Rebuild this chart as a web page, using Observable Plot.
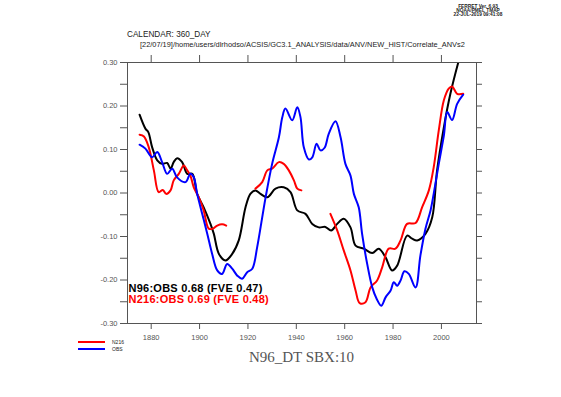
<!DOCTYPE html>
<html><head><meta charset="utf-8">
<script src="https://cdn.jsdelivr.net/npm/d3@7"></script>
<script src="https://cdn.jsdelivr.net/npm/@observablehq/plot@0.6"></script>
<style>
body{margin:0;background:#fff}
#c{position:relative;width:561px;height:397px}
</style>
</head><body><div id="c"></div>
<script>
// N96 (black)
const n96Years = [1875.2,1877.6,1878.8,1880.4,1882.5,1884.5,1886.6,1888,1889.3,1890.7,1892.8,1894.9,1897,1899,1901.7,1904.5,1905.9,1908,1910.7,1913.5,1916.2,1919,1921,1923.1,1925.2,1928,1931.4,1934.8,1937.6,1940.4,1943.8,1946.6,1949.3,1952,1954.4,1956.9,1959.6,1962.4,1964.5,1967.9,1971.4,1974.1,1976.9,1979.6,1981.7,1985.8,1987.9,1990,1993.4,1996.2,1998.2,2001,2003.7,2007.2,2009];
const n96Values = [0.180,0.148,0.140,0.105,0.075,0.067,0.069,0.056,0.071,0.080,0.071,0.044,0.044,-0.002,-0.033,-0.071,-0.094,-0.140,-0.155,-0.140,-0.109,-0.033,-0.002,0.006,-0.002,-0.010,0.010,0.013,0.002,-0.040,-0.048,-0.071,-0.079,-0.078,-0.086,-0.071,-0.059,-0.079,-0.121,-0.128,-0.138,-0.128,-0.148,-0.178,-0.167,-0.098,-0.105,-0.109,-0.094,-0.056,0.052,0.151,0.228,0.305,0.340];

// N216 (red), null = gap
const n216Years = [1875.2,1877,1879,1881.1,1883.1,1884.8,1886.2,1888,1889.3,1891.4,1893.5,1894.9,1896.2,1897.6,1899.7,1901.7,1903.8,1905.5,1907.3,1909.3,1911,1917,1923.1,1925.9,1928,1930,1932.8,1934.8,1936.9,1939,1940.4,1942.1,1948,1954.1,1956.9,1959.6,1962.4,1964.5,1966.2,1968.6,1970.7,1973.4,1975.5,1978.2,1981,1983.1,1985.8,1989.3,1992,1994.8,1996.8,1998.9,2001,2003,2004.4,2006.5,2009];
const n216Values = [0.134,0.130,0.105,0.052,0.002,0.007,-0.002,0.006,0.029,0.044,0.063,0.052,0.040,0.013,-0.010,-0.040,-0.082,-0.082,-0.075,-0.072,-0.075,null,0.010,0.025,0.052,0.056,0.071,0.067,0.052,0.029,0.010,0.006,null,-0.048,-0.086,-0.132,-0.178,-0.224,-0.253,-0.251,-0.217,-0.201,-0.171,-0.128,-0.128,-0.109,-0.071,-0.069,-0.033,0.006,0.059,0.144,0.213,0.240,0.245,0.228,0.228];

// OBS (blue)
const obsYears = [1875.2,1877.6,1880.4,1882.5,1884.5,1886.6,1888.7,1890.7,1894.2,1896.2,1897.6,1899,1901.1,1903.2,1905.2,1907.3,1909.3,1911.4,1913.5,1915.6,1917.6,1919.7,1921.8,1923.8,1925.9,1927.3,1930,1932.8,1934.2,1935.5,1938.3,1940.4,1941.7,1943.1,1945.2,1946.6,1948.4,1950,1951.7,1953.4,1956.2,1958.3,1960.3,1962.4,1963.8,1965.8,1967.2,1969.3,1971.4,1973.2,1975.1,1976.9,1979,1980.3,1981.7,1983.1,1984.7,1986.5,1989.3,1991.3,1993.4,1995.5,1996.8,1998.9,2001,2002.4,2004.4,2006.5,2009];
const obsValues = [0.111,0.102,0.082,0.094,0.071,0.044,0.056,0.036,0.025,0.044,0.036,-0.002,-0.048,-0.094,-0.140,-0.178,-0.186,-0.163,-0.174,-0.190,-0.197,-0.182,-0.174,-0.125,-0.056,-0.010,0.067,0.128,0.174,0.194,0.167,0.197,0.175,0.105,0.077,0.082,0.113,0.098,0.104,0.136,0.165,0.128,0.067,0.040,-0.002,-0.033,-0.094,-0.163,-0.217,-0.243,-0.259,-0.240,-0.224,-0.205,-0.213,-0.201,-0.180,-0.186,-0.217,-0.144,-0.082,-0.040,-0.002,0.067,0.132,0.186,0.168,0.205,0.226];

const yMajor = [-0.3,-0.2,-0.1,0,0.1,0.2,0.3];
const yMinor = [-0.25,-0.15,-0.05,0.05,0.15,0.25];
const xTicks = [1880,1900,1920,1940,1960,1980,2000];
const annotations = ["N96:OBS 0.68 (FVE 0.47)", "N216:OBS 0.69 (FVE 0.48)"];
const legendNames = ["N216", "OBS"];
const seriesColors = ["#ff0000", "#0000ff"];

const toRows = (xs, vs) => xs.map((x, i) => ({year: x, value: vs[i]}));
const n96 = toRows(n96Years, n96Values);
const n216 = toRows(n216Years, n216Values);
const obs = toRows(obsYears, obsValues);

const fmt = d => (Math.abs(d) < 1e-9 ? 0 : d).toFixed(2);
const blank = () => "";

const plot = Plot.plot({
  width: 561, height: 397,
  marginLeft: 127, marginRight: 85, marginTop: 62, marginBottom: 74,
  x: {domain: [1870.2, 2014.5]},
  y: {domain: [-0.3, 0.3]},
  style: {fontFamily: "Liberation Sans, Arial, sans-serif", fontSize: "7.5px", color: "#555", background: "white"},
  marks: [
    Plot.axisY({ticks: yMajor, tickSize: 7, tickPadding: 3, tickFormat: fmt, label: null}),
    Plot.axisY({ticks: yMinor, tickSize: 7, tickFormat: blank, label: null}),
    Plot.axisY({anchor: "right", ticks: yMajor.concat(yMinor), tickSize: 5, tickFormat: blank, label: null}),
    Plot.axisX({anchor: "top", ticks: xTicks, tickSize: 8, tickFormat: blank, label: null}),
    Plot.axisX({anchor: "bottom", ticks: xTicks, tickSize: 6, tickPadding: 5, tickFormat: d => String(d), label: null}),
    Plot.line(n96, {x: "year", y: "value", stroke: "black", strokeWidth: 2, curve: "catmull-rom", clip: true}),
    Plot.line(n216, {x: "year", y: "value", stroke: seriesColors[0], strokeWidth: 2, curve: "catmull-rom", clip: true}),
    Plot.line(obs, {x: "year", y: "value", stroke: seriesColors[1], strokeWidth: 2, curve: "catmull-rom", clip: true}),
    Plot.text([annotations[0]], {text: d => d, frameAnchor: "bottom-left", textAnchor: "start", lineAnchor: "middle", dx: 1, dy: -35, fill: "black", fontSize: 11, fontWeight: 600}),
    Plot.text([annotations[1]], {text: d => d, frameAnchor: "bottom-left", textAnchor: "start", lineAnchor: "middle", dx: 1, dy: -24, fill: "#ff0000", fontSize: 11, fontWeight: 600}),
    Plot.frame({stroke: "#555"})
  ]
});
document.getElementById("c").appendChild(plot);

const svg = d3.select(plot);
svg.selectAll("text").filter(function() { return annotations.includes(this.textContent); })
  .style("letter-spacing", "0.25px");
const addText = (x, y, t, opts) => {
  const el = svg.append("text").attr("x", x).attr("y", y).text(t)
    .attr("font-family", opts.family || "Liberation Sans, Arial, sans-serif")
    .attr("font-size", opts.size).attr("fill", opts.fill || "#222")
    .attr("font-weight", opts.weight || "normal")
    .attr("text-anchor", opts.anchor || "start");
  return el;
};
addText(127, 37, "CALENDAR: 360_DAY", {size: 8.2});
addText(140, 47, "[22/07/19]/home/users/dlrhodso/ACSIS/GC3.1_ANALYSIS/data/ANV/NEW_HIST/Correlate_ANVs2", {size: 7.4});
addText(478, 8, "FERRET Ver. 6.93", {size: 4.8, anchor: "middle", weight: "bold"});
addText(478, 11.8, "NOAA/PMEL TMAP", {size: 4.8, anchor: "middle", weight: "bold"});
addText(478, 15.6, "22-JUL-2019 09:41:08", {size: 4.8, anchor: "middle", weight: "bold"});
addText(301.5, 362, "N96_DT SBX:10", {size: 15, family: "Liberation Serif, Times New Roman, serif", fill: "#555", anchor: "middle"});
legendNames.forEach((name, i) => {
  const y = 342 + i * 7;
  svg.append("line").attr("x1", 78).attr("x2", 105).attr("y1", y).attr("y2", y)
    .attr("stroke", seriesColors[i]).attr("stroke-width", 2);
  addText(112, y + 1.7, name, {size: 5});
});
</script>
</body></html>
